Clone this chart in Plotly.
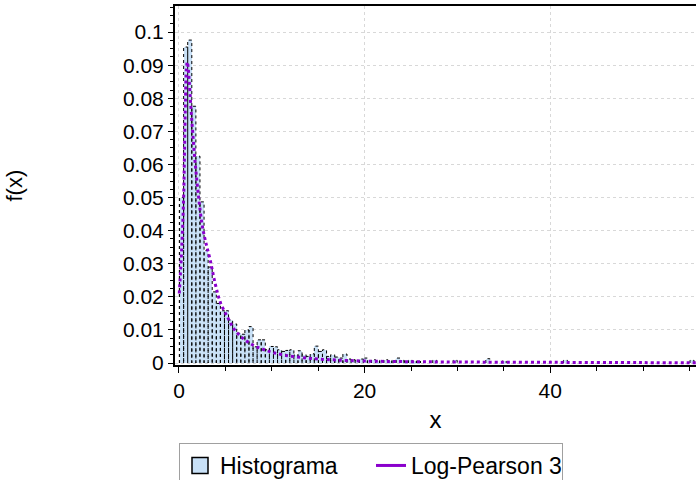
import plotly.graph_objects as go

# ---- data ----
bin_start = 0.06
bin_width = 0.44
hist_density = [
    0.050, 0.0955, 0.0976, 0.0776, 0.0625, 0.0487, 0.034, 0.029, 0.0215, 0.018,
    0.0158, 0.0158, 0.013, 0.0118, 0.009, 0.0087, 0.010, 0.011, 0.0049, 0.007,
    0.007, 0.004, 0.005, 0.0049, 0.004, 0.0035, 0.0038, 0.004, 0.0024, 0.0037,
    0.0025, 0.002, 0.0028, 0.0051, 0.0035, 0.004, 0.002, 0.0025, 0.0018, 0.0015,
    0.0027, 0.0012, 0.0010, 0.0008, 0.0012, 0.0015, 0.0008, 0.0010, 0.0006, 0.0008,
    0.0010, 0.0006, 0.0008, 0.0015, 0.0008, 0.0006, 0.0008, 0.0005, 0.0006, 0.0,
    0.0, 0.0, 0.0008, 0.0, 0.0, 0.0, 0.0, 0.0008, 0.0, 0.0,
    0.0, 0.0, 0.0, 0.0, 0.0, 0.0013, 0.0, 0.0, 0.0, 0.0006,
    0.0, 0.0, 0.0, 0.0, 0.0, 0.0, 0.0, 0.0, 0.0, 0.0,
    0.0, 0.0, 0.0, 0.0, 0.0008, 0.0, 0.0, 0.0, 0.0, 0.0,
    0.0, 0.0, 0.0, 0.0, 0.0, 0.0, 0.0, 0.0, 0.0, 0.0,
    0.0, 0.0, 0.0, 0.0, 0.0, 0.0, 0.0, 0.0, 0.0, 0.0,
    0.0, 0.0, 0.0, 0.0, 0.0, 0.0008,
]

lp3_x = [0.03, 0.3, 0.5, 0.6, 0.7, 0.8, 0.9, 1.0, 1.22, 1.47, 1.76, 2.12, 2.48,
         2.84, 3.37, 3.9, 4.5, 5.3, 6.0, 7.1, 8.2, 9.3, 10.2, 11.5, 13.4, 15.0,
         17.0, 20.0, 25.0, 30.0, 40.0, 50.0, 56.0]
lp3_y = [0.021, 0.035, 0.050, 0.065, 0.080, 0.089, 0.091, 0.089, 0.080, 0.070,
         0.060, 0.050, 0.042, 0.037, 0.031, 0.024, 0.018, 0.0135, 0.010, 0.007,
         0.0051, 0.0039, 0.0031, 0.0023, 0.0016, 0.0012, 0.0009, 0.0006, 0.0004,
         0.0003, 0.0002, 0.00012, 0.0001]

y_ticks = [0, 0.01, 0.02, 0.03, 0.04, 0.05, 0.06, 0.07, 0.08, 0.09, 0.1]
y_ticklabels = ["0", "0.01", "0.02", "0.03", "0.04", "0.05", "0.06", "0.07", "0.08", "0.09", "0.1"]
x_ticks = [0, 20, 40]

# ---- build ----
centers = [bin_start + bin_width * (i + 0.5) for i in range(len(hist_density))]
ox, oy = [], []
for c, v in zip(centers, hist_density):
    if v > 0:
        l, r = c - bin_width / 2, c + bin_width / 2
        ox += [l, l, r, r, None]
        oy += [0, v, v, 0, None]

FILL = "#c9e1f7"
PURPLE = "#8a00cc"
FONT = "Liberation Sans, Arial, sans-serif"

fig = go.Figure()
fig.add_trace(go.Bar(x=centers, y=hist_density, width=bin_width,
                     marker=dict(color=FILL, line=dict(width=0)), showlegend=False))
fig.add_trace(go.Scatter(x=ox, y=oy, mode="lines",
                         line=dict(color="black", width=1, dash="dot"),
                         showlegend=False, hoverinfo="skip"))
fig.add_trace(go.Scatter(x=lp3_x, y=lp3_y, mode="lines", line_shape="spline",
                         line=dict(color=PURPLE, width=3, dash="dot"), showlegend=False))
# legend entries
fig.add_trace(go.Scatter(x=[None], y=[None], mode="markers", name="Histograma",
                         marker=dict(symbol="square", size=16, color=FILL,
                                     line=dict(color="black", width=1.5))))
fig.add_trace(go.Scatter(x=[None], y=[None], mode="lines", name="Log-Pearson 3",
                         line=dict(color=PURPLE, width=3)))

W, H = 696, 480
L, R, T, B = 175, 0, 6, 115
pw, ph = W - L - R, H - T - B

fig.update_layout(
    width=W, height=H,
    margin=dict(l=L, r=R, t=T, b=B, autoexpand=False),
    paper_bgcolor="white", plot_bgcolor="white",
    font=dict(family=FONT, color="black", size=21),
    bargap=0,
    legend=dict(orientation="h", xref="container", yref="container",
                x=179 / W, xanchor="left", y=1 - 443 / H, yanchor="top",
                bordercolor="#a0a0a0", borderwidth=1, bgcolor="white",
                entrywidth=146, entrywidthmode="pixels",
                font=dict(size=23, family=FONT), traceorder="normal"),
    annotations=[dict(text="f(x)", textangle=-90, xref="paper", yref="paper",
                      x=(14 - L) / pw, y=0.5, xanchor="center", yanchor="middle",
                      showarrow=False, font=dict(size=22, family=FONT))],
)
fig.update_xaxes(
    range=[-0.43, 55.71], tickvals=x_ticks, ticks="outside", ticklen=6, tickwidth=1,
    tickcolor="black", showline=True, linecolor="black", linewidth=2, mirror=True,
    showgrid=True, gridcolor="#d8d8d8", griddash="dot", gridwidth=1, zeroline=False,
    minor=dict(dtick=5, ticks="outside", ticklen=4, tickcolor="black", showgrid=False),
    title=dict(text="x", font=dict(size=24), standoff=10), automargin=False,
)
fig.update_yaxes(
    range=[-0.0006, 0.1079], tickvals=y_ticks, ticktext=y_ticklabels, ticks="outside",
    ticklen=5, tickwidth=1, tickcolor="black", showline=True, linecolor="black",
    linewidth=2, mirror=False, showgrid=True, gridcolor="#d8d8d8", griddash="dot",
    gridwidth=1, zeroline=False, automargin=False,
    minor=dict(dtick=0.0025, ticks="outside", ticklen=3, tickcolor="black", showgrid=False),
)

fig.write_html("out.html", config={"displayModeBar": False},
               post_script="document.body.style.margin='0';document.body.style.overflow='hidden';")
